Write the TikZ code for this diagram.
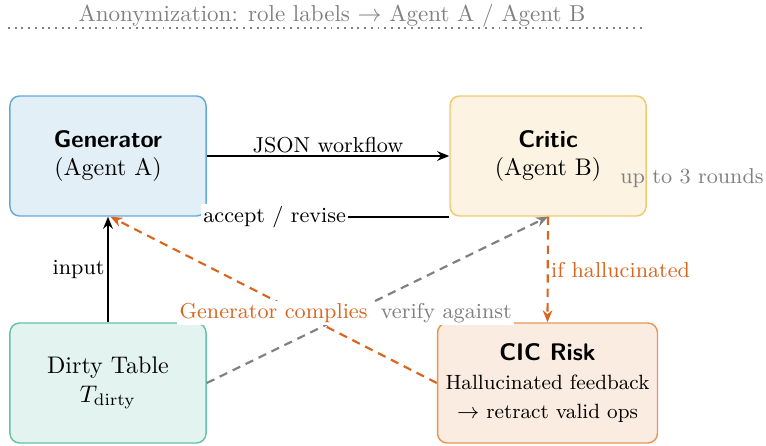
\documentclass[tikz,border=0pt]{standalone}
\usepackage{xcolor}
\usetikzlibrary{arrows.meta}
\definecolor{genfill}{RGB}{227,239,247}
\definecolor{gendraw}{RGB}{102,170,218}
\definecolor{critfill}{RGB}{252,243,227}
\definecolor{critdraw}{RGB}{243,200,110}
\definecolor{dirtyfill}{RGB}{227,243,239}
\definecolor{dirtydraw}{RGB}{102,194,165}
\definecolor{cicfill}{RGB}{251,236,226}
\definecolor{cicdraw}{RGB}{232,150,88}
\definecolor{riskorange}{RGB}{217,102,31}
\definecolor{notegray}{RGB}{128,128,128}
\newcommand{\risksize}{\fontsize{8.6}{12}\selectfont}
\tikzset{every picture/.style={line width=0.55pt}}

\begin{document}
\begin{tikzpicture}[x=0.4167pt,y=0.4167pt,yscale=-1,xscale=1,
    agentbox/.style={draw, rounded corners=4pt, minimum width=81.7pt, minimum height=50pt, align=center, line width=0.6pt},
    flow/.style={-{Stealth[length=5pt,width=4pt]}, line width=0.9pt},
    edgelabel/.style={font=\small, inner sep=1pt},
    riskline/.style={flow, dashed, dash pattern=on 3.5pt off 2.5pt, draw=riskorange}]
    \useasboundingbox (0,0) rectangle (766,445);
    % Text Node
    \node (anon) at (332,15.5) [text=notegray, inner sep=0pt, font=\fontsize{9.6}{11.5}\selectfont] {Anonymization: role labels $\rightarrow$ Agent A / Agent B};
    \coordinate (rule l) at (8,28);
    \coordinate (rule r) at (646,28);
    %Straight Lines
    \draw [dotted, draw=notegray, line width=0.8pt] (rule l) -- (rule r);
    % Boxes
    \node (gen) at (108,156) [agentbox, fill=genfill, draw=gendraw] {{\sffamily\bfseries Generator}\\(Agent A)};
    \node (critic) at (548,156) [agentbox, fill=critfill, draw=critdraw] {{\sffamily\bfseries Critic}\\(Agent B)};
    \node (dirty) at (108,383) [agentbox, fill=dirtyfill, draw=dirtydraw] {Dirty Table\\$T_{\mathrm{dirty}}$};
    \node (cic) at (547.5,383) [agentbox, fill=cicfill, draw=cicdraw] {{\sffamily\bfseries CIC Risk}\\{\risksize Hallucinated feedback}\\{\risksize $\rightarrow$ retract valid ops}};
    %Straight Lines
    \draw [flow] (gen.east) -- node [above, edgelabel] {JSON workflow} (critic.west);
    \draw [flow] (critic.south west) -- node [pos=0.72, fill=white, edgelabel] {accept / revise} (gen.south east);
    \draw [flow] (dirty.north) -- node [left, edgelabel] {input} (gen.south);
    \draw [riskline] (critic.south) -- node [right, edgelabel, text=riskorange] {if hallucinated} (cic.north);
    \draw [flow, dashed, dash pattern=on 3.5pt off 2.5pt, draw=notegray] (dirty.east) -- node [below right, fill=white, edgelabel, text=notegray] {verify against} (critic.south);
    \draw [riskline] (cic.west) -- node [below, fill=white, edgelabel, text=riskorange] {Generator complies} ([xshift=1pt]gen.south);
    % Text Node
    \node (rounds) at (692,178) [edgelabel, text=notegray] {up to 3 rounds};
\end{tikzpicture}
\end{document}
